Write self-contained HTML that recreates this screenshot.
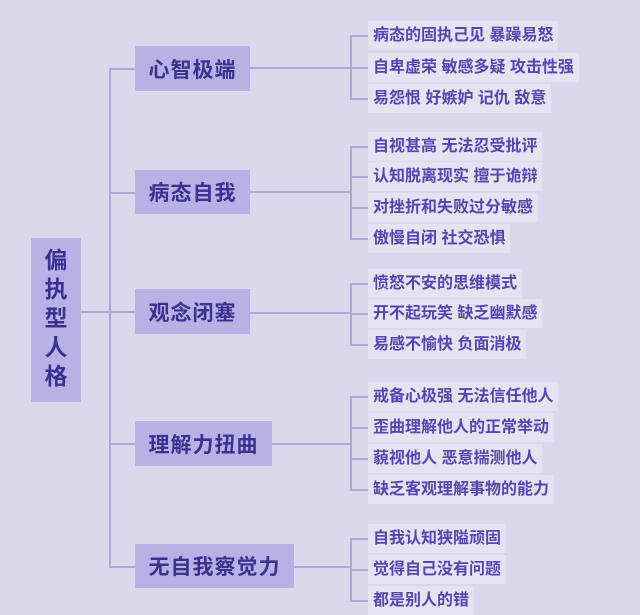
<!DOCTYPE html>
<html><head><meta charset="utf-8"><style>
html,body{margin:0;padding:0}
body{width:640px;height:610px;background:#dcd8ec;position:relative;overflow:hidden;font-family:"Liberation Sans","Noto Sans CJK SC",sans-serif;}
.l{position:absolute;background:#aea7da}
.n{position:absolute;background:#b9b1e5;color:#3a3290;font-weight:bold;font-size:21px;display:flex;align-items:center;justify-content:center;letter-spacing:1px}
.f{position:absolute;left:368px;height:29px;background:#e5e2f2;color:#5447b0;font-weight:bold;font-size:16px;line-height:29px;padding:0 5px;white-space:nowrap;box-sizing:border-box}
.root{position:absolute;left:31px;top:238px;width:50px;height:164px;background:#b9b1e5;color:#3a3290;font-weight:bold;font-size:23px;text-align:center;line-height:29px;padding-top:8px;box-sizing:border-box}
</style></head><body>
<div class="root">偏<br>执<br>型<br>人<br>格</div>
<div class="l" style="left:81px;top:311px;width:29px;height:2px"></div>
<div class="l" style="left:109px;top:68px;width:2px;height:500px"></div>
<div class="l" style="left:109px;top:68px;width:26px;height:2px"></div>
<div class="l" style="left:109px;top:192px;width:26px;height:2px"></div>
<div class="l" style="left:109px;top:311px;width:26px;height:2px"></div>
<div class="l" style="left:109px;top:443px;width:26px;height:2px"></div>
<div class="l" style="left:109px;top:566px;width:26px;height:2px"></div>

<div class="n" style="left:135px;top:46px;width:115px;height:45px">心智极端</div>
<div class="n" style="left:135px;top:170px;width:115px;height:44px">病态自我</div>
<div class="n" style="left:135px;top:289px;width:115px;height:45px">观念闭塞</div>
<div class="n" style="left:135px;top:421px;width:137px;height:45px">理解力扭曲</div>
<div class="n" style="left:135px;top:544px;width:159px;height:44px">无自我察觉力</div>

<div class="l" style="left:250px;top:67px;width:100px;height:2px"></div>
<div class="l" style="left:350px;top:35px;width:2px;height:64px"></div>
<div class="l" style="left:350px;top:35px;width:18px;height:2px"></div>
<div class="l" style="left:350px;top:67px;width:18px;height:2px"></div>
<div class="l" style="left:350px;top:98px;width:18px;height:2px"></div>

<div class="l" style="left:250px;top:191px;width:100px;height:2px"></div>
<div class="l" style="left:350px;top:146px;width:2px;height:93px"></div>
<div class="l" style="left:350px;top:146px;width:18px;height:2px"></div>
<div class="l" style="left:350px;top:176px;width:18px;height:2px"></div>
<div class="l" style="left:350px;top:207px;width:18px;height:2px"></div>
<div class="l" style="left:350px;top:238px;width:18px;height:2px"></div>

<div class="l" style="left:250px;top:312px;width:100px;height:2px"></div>
<div class="l" style="left:350px;top:283px;width:2px;height:62px"></div>
<div class="l" style="left:350px;top:283px;width:18px;height:2px"></div>
<div class="l" style="left:350px;top:313px;width:18px;height:2px"></div>
<div class="l" style="left:350px;top:344px;width:18px;height:2px"></div>

<div class="l" style="left:272px;top:443px;width:78px;height:2px"></div>
<div class="l" style="left:350px;top:396px;width:2px;height:94px"></div>
<div class="l" style="left:350px;top:396px;width:18px;height:2px"></div>
<div class="l" style="left:350px;top:427px;width:18px;height:2px"></div>
<div class="l" style="left:350px;top:458px;width:18px;height:2px"></div>
<div class="l" style="left:350px;top:489px;width:18px;height:2px"></div>

<div class="l" style="left:294px;top:566px;width:56px;height:2px"></div>
<div class="l" style="left:350px;top:538px;width:2px;height:62px"></div>
<div class="l" style="left:350px;top:538px;width:18px;height:2px"></div>
<div class="l" style="left:350px;top:569px;width:18px;height:2px"></div>
<div class="l" style="left:350px;top:600px;width:18px;height:2px"></div>

<div class="f" style="top:21px">病态的固执己见 暴躁易怒</div>
<div class="f" style="top:53px">自卑虚荣 敏感多疑 攻击性强</div>
<div class="f" style="top:84px">易怨恨 好嫉妒 记仇 敌意</div>

<div class="f" style="top:132px">自视甚高 无法忍受批评</div>
<div class="f" style="top:162px">认知脱离现实 擅于诡辩</div>
<div class="f" style="top:193px">对挫折和失败过分敏感</div>
<div class="f" style="top:224px">傲慢自闭 社交恐惧</div>

<div class="f" style="top:269px">愤怒不安的思维模式</div>
<div class="f" style="top:299px">开不起玩笑 缺乏幽默感</div>
<div class="f" style="top:330px">易感不愉快 负面消极</div>

<div class="f" style="top:382px">戒备心极强 无法信任他人</div>
<div class="f" style="top:413px">歪曲理解他人的正常举动</div>
<div class="f" style="top:444px">藐视他人 恶意揣测他人</div>
<div class="f" style="top:475px">缺乏客观理解事物的能力</div>

<div class="f" style="top:524px">自我认知狭隘顽固</div>
<div class="f" style="top:555px">觉得自己没有问题</div>
<div class="f" style="top:586px">都是别人的错</div>
</body></html>
